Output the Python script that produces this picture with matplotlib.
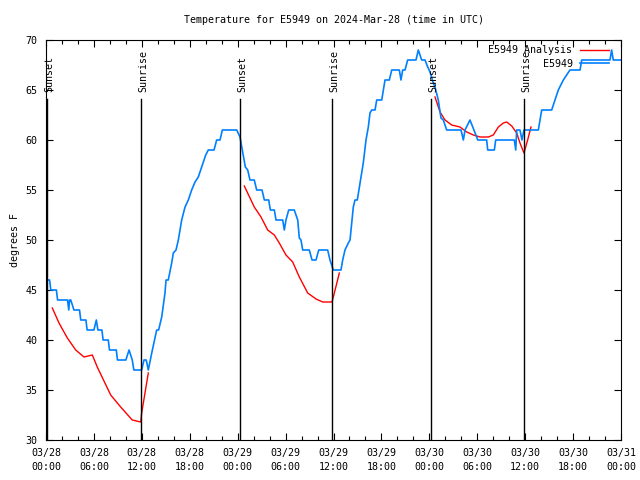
import matplotlib
matplotlib.use("Agg")
import matplotlib.pyplot as plt
import matplotlib.transforms as mtransforms

# hours since 2024-03-28 00:00 UTC
obs_hours = [0.0, 0.45, 0.6, 1.3, 1.45, 2.7, 2.85, 2.95, 3.1, 3.5, 4.2, 4.35, 5.0, 5.15,
             6.0, 6.3, 6.5, 7.0, 7.15, 7.8, 7.95, 8.8, 8.95, 10.0, 10.4, 10.8, 11.0, 11.98,
             12.27, 12.55, 12.81, 13.24, 13.65, 13.86, 14.1, 14.49, 14.9, 15.03, 15.31, 15.74,
             15.94, 16.28, 16.57, 16.99, 17.41, 17.82, 18.24, 18.66, 19.07, 19.41, 19.7, 20.0,
             20.32, 21.04, 21.37, 21.79, 22.08, 23.88, 24.29, 24.63, 24.96, 25.26, 25.54, 26.08,
             26.38, 27.05, 27.34, 27.89, 28.09, 28.59, 28.8, 29.64, 29.84, 30.05, 30.39, 31.09,
             31.52, 31.72, 31.93, 32.14, 32.97, 33.31, 33.81, 34.15, 35.27, 35.56, 35.98, 36.94,
             37.15, 37.44, 37.85, 38.07, 38.28, 38.48, 38.69, 38.98, 39.32, 39.73, 40.07, 40.36,
             40.57, 40.78, 41.2, 41.41, 42.04, 42.24, 42.45, 42.99, 43.29, 44.24, 44.45, 44.66,
             44.95, 45.29, 46.33, 46.62, 47.04, 47.46, 47.75, 48.08, 48.5, 48.71, 49.12, 49.46,
             49.75, 50.17, 51.97, 52.26, 52.47, 53.09, 53.93, 54.06, 55.18, 55.31, 56.14, 56.31,
             58.64, 58.82, 58.94, 59.35, 59.6, 59.85, 61.65, 62.07, 63.32, 63.74, 64.15, 64.78,
             65.61, 66.87, 67.08, 70.62, 70.83, 71.03, 72.0]
obs_temps = [46, 46, 45, 45, 44, 44, 43, 44, 44, 43, 43, 42, 42, 41,
             41, 42, 41, 41, 40, 40, 39, 39, 38, 38, 39, 38, 37, 37,
             38, 38, 37, 38.7, 40.2, 41, 41, 42.3, 44.7, 46, 46, 47.7,
             48.7, 49, 50, 52, 53.3, 54, 55, 55.8, 56.3, 57.1, 57.8, 58.5,
             59, 59, 60, 60, 61, 61, 60.3, 58.8, 57.3, 57, 56, 56,
             55, 55, 54, 54, 53, 53, 52, 52, 51, 52, 53, 53,
             52, 50.2, 50, 49, 49, 48, 48, 49, 49, 48, 47, 47,
             48, 49, 49.7, 50, 51.7, 53.3, 54, 54, 55.7, 57.7, 60, 61.3,
             62.7, 63, 63, 64, 64, 65, 66, 66, 67, 67, 66, 67,
             67, 68, 68, 69, 68, 68, 67.4, 66.8, 65.7, 65.3, 64, 62.2,
             62, 61, 61, 60, 61, 62, 60.3, 60, 60, 59, 59, 60,
             60, 59, 61, 61, 60, 61, 61, 63, 63, 64, 65, 66,
             67, 67, 68, 68, 69, 68, 68]

ana_hours = [
    [0.79, 1.63, 2.67, 3.72, 4.76, 5.8, 6.42, 8.1, 9.35, 10.8, 11.86, 11.98, 12.81],
    [24.83, 26.08, 26.92, 27.76, 28.59, 29.21, 30.05, 30.89, 31.72, 32.77, 33.81, 34.65,
     35.81, 35.98, 36.73],
    [48.71, 49.34, 49.96, 50.8, 51.84, 52.68, 53.51, 54.35, 55.39, 56.01, 56.64, 57.27,
     57.69, 58.32, 58.94, 59.35, 59.85, 60.31, 60.73],
]
ana_temps = [
    [43.2, 41.7, 40.2, 39.0, 38.3, 38.5, 37.3, 34.5, 33.3, 32.0, 31.8, 32.7, 36.7],
    [55.4, 53.3, 52.3, 51.0, 50.5, 49.7, 48.5, 47.8, 46.3, 44.7, 44.1, 43.8, 43.8, 44.3, 46.7],
    [64.3, 62.8, 62.0, 61.5, 61.3, 60.8, 60.5, 60.3, 60.3, 60.5, 61.3, 61.7, 61.8, 61.4,
     60.7, 59.7, 58.7, 60.0, 61.3],
]

sun_hours = [0.13, 11.9, 24.29, 35.81, 48.21, 59.85]
sun_labels = ["Sunset", "Sunrise", "Sunset", "Sunrise", "Sunset", "Sunrise"]

tick_hours = list(range(0, 73, 6))
tick_labels = ["03/28\n00:00", "03/28\n06:00", "03/28\n12:00", "03/28\n18:00",
               "03/29\n00:00", "03/29\n06:00", "03/29\n12:00", "03/29\n18:00",
               "03/30\n00:00", "03/30\n06:00", "03/30\n12:00", "03/30\n18:00",
               "03/31\n00:00"]

plt.rcParams['font.family'] = ['DejaVu Sans Mono']
fs = 7.2

fig = plt.figure(figsize=(6.4, 4.8), dpi=100)
ax = fig.add_axes([46 / 640, 40 / 480, 575 / 640, 400 / 480])

for i, (h, t) in enumerate(zip(ana_hours, ana_temps)):
    ax.plot(h, t, color='#ff0000', lw=1.0, label='E5949 Analysis' if i == 0 else None)
ax.plot(obs_hours, obs_temps, color='#0080ff', lw=1.2, label='E5949')

# nudge the rotated labels a couple of pixels right of the line, like gnuplot
shift = mtransforms.offset_copy(ax.transData, fig=fig, x=2, y=0, units='dots')
for h, lab in zip(sun_hours, sun_labels):
    ax.axvline(h, ymin=0, ymax=0.852, color='black', lw=1.0)
    ax.text(h, 64.8, lab, rotation=90, ha='center', va='bottom', fontsize=fs,
            transform=shift)

ax.set_xlim(0, 72)
ax.set_ylim(30, 70)
ax.set_xticks(tick_hours)
ax.set_xticklabels(tick_labels, fontsize=fs, linespacing=1.4)
ax.set_xticks(range(0, 73, 2), minor=True)
ax.set_yticks(range(30, 71, 5))
ax.tick_params(axis='y', labelsize=fs, pad=6)
ax.tick_params(axis='x', pad=6)
ax.tick_params(which='both', direction='in', top=True, right=True, length=5, width=0.8)
ax.tick_params(which='minor', length=3)
ax.set_ylabel("degrees F", fontsize=fs, labelpad=4)
ax.set_title("Temperature for E5949 on 2024-Mar-28 (time in UTC)", fontsize=fs, pad=12)

ax.legend(loc='upper right', bbox_to_anchor=(1 - 7 / 575, 1), markerfirst=False,
          frameon=False, fontsize=fs, handlelength=2.9, handletextpad=0.7,
          labelspacing=0.35, borderaxespad=0.15)

plt.savefig("out.png", dpi=100)
